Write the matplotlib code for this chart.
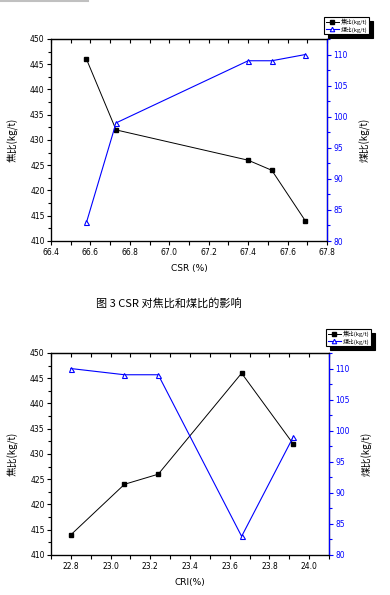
import matplotlib
matplotlib.use("Agg")
import matplotlib.pyplot as plt
from matplotlib.ticker import MultipleLocator

plt.rcParams['font.family'] = ['DejaVu Sans', 'Noto Sans CJK SC']

# data
csr = [66.58, 66.73, 67.40, 67.52, 67.69]
csr_coke = [446, 432, 426, 424, 414]
csr_coal = [83, 99, 109, 109, 110]

cri = [22.80, 23.07, 23.24, 23.66, 23.92]
cri_coke = [414, 424, 426, 446, 432]
cri_coal = [110, 109, 109, 83, 99]

coke_label = "焦比(kg/t)"
coal_label = "煤比(kg/t)"
cjk = ['Noto Sans CJK SC', 'DejaVu Sans']

fig = plt.figure(figsize=(3.9, 5.95), dpi=100)

# thin gray line at the very top left
fig.add_artist(plt.Line2D([0, 88 / 390], [0.999, 0.999], color='#c0c0c0', lw=1.5))


def panel(rect, x, coke, coal, xlim, xticks, xlabel, leg_pos):
    ax = fig.add_axes(rect)
    l1, = ax.plot(x, coke, color='black', lw=0.7, marker='s', ms=3.4,
                  mfc='black', mec='black')
    ax.set_xlim(*xlim)
    ax.set_ylim(410, 450)
    ax.set_xticks(xticks)
    ax.set_xticklabels(["%.1f" % v for v in xticks])
    ax.xaxis.set_minor_locator(MultipleLocator(0.1))
    ax.yaxis.set_major_locator(MultipleLocator(5))
    ax.yaxis.set_minor_locator(MultipleLocator(2.5))
    ax.tick_params(axis='x', which='both', direction='out', length=3, width=0.8,
                   labelsize=5.5, pad=2)
    ax.tick_params(axis='y', which='major', direction='out', length=3, width=0.8,
                   labelsize=5.5, pad=1.5)
    ax.tick_params(axis='y', which='minor', direction='out', length=2, width=0.8)
    for s in ax.spines.values():
        s.set_linewidth(0.9)
    ax.set_xlabel(xlabel, fontsize=6.5, labelpad=5)
    ax.set_ylabel(coke_label, fontsize=7, family=cjk, labelpad=8)

    ax2 = ax.twinx()
    l2, = ax2.plot(x, coal, color='blue', lw=0.8, marker='^', ms=3.6,
                   mfc='white', mec='blue', mew=0.8)
    ax2.set_ylim(80, 112.5)
    ax2.yaxis.set_major_locator(MultipleLocator(5))
    ax2.yaxis.set_minor_locator(MultipleLocator(2.5))
    ax2.tick_params(axis='y', which='major', direction='out', length=3, width=0.8,
                    labelsize=5.5, pad=1.5, colors='blue', labelcolor='blue')
    ax2.tick_params(axis='y', which='minor', direction='out', length=2, width=0.8,
                    colors='blue')
    ax2.spines['right'].set_color('blue')
    ax2.spines['right'].set_linewidth(0.9)
    ax2.set_ylabel(coal_label, fontsize=7, family=cjk, labelpad=8)

    # top axis ticks point inward
    top = ax.secondary_xaxis('top')
    top.set_xticks(xticks)
    top.xaxis.set_minor_locator(MultipleLocator(0.1))
    top.tick_params(which='both', direction='in', length=3, width=0.8,
                    labeltop=False)

    leg = fig.legend([l1, l2], [coke_label, coal_label],
                     loc='upper left', bbox_to_anchor=leg_pos,
                     prop={'family': cjk, 'size': 4.2}, frameon=True,
                     fancybox=False,
                     shadow={'color': 'black', 'alpha': 1, 'ox': 3, 'oy': -3},
                     handlelength=2.2, handletextpad=0.4, borderpad=0.3,
                     labelspacing=0.2, markerscale=0.9, borderaxespad=0)
    leg.get_frame().set_edgecolor('black')
    leg.get_frame().set_linewidth(0.8)
    return ax


panel([51 / 390, 1 - 241 / 595, 276 / 390, 202 / 595], csr, csr_coke, csr_coal,
      (66.4, 67.8), [66.4, 66.6, 66.8, 67.0, 67.2, 67.4, 67.6, 67.8],
      "CSR (%)", (324 / 390, 1 - 17 / 595))

panel([51 / 390, 1 - 555 / 595, 278 / 390, 202 / 595], cri, cri_coke, cri_coal,
      (22.7, 24.1), [22.8, 23.0, 23.2, 23.4, 23.6, 23.8, 24.0],
      "CRI(%)", (326 / 390, 1 - 329 / 595))

fig.text(169 / 390, 1 - 303 / 595, "图 3 CSR 对焦比和煤比的影响",
         ha='center', va='center', fontsize=8, family=cjk)

fig.savefig("out.png", dpi=100)
